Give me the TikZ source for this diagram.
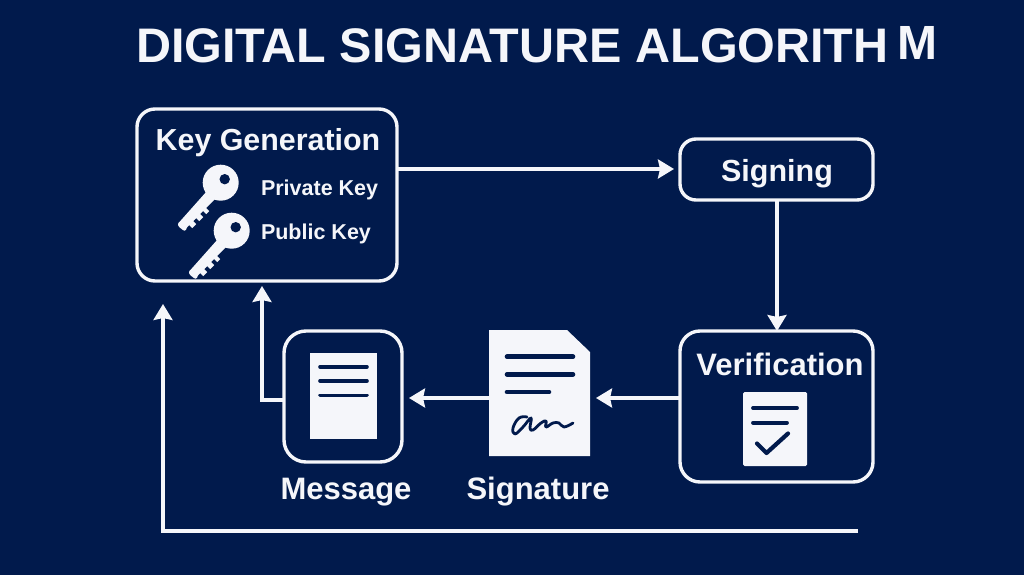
\documentclass[tikz,border=0pt]{standalone}
\usepackage{fontspec}
\setmainfont{Liberation Sans}
\usetikzlibrary{arrows.meta}
\definecolor{navy}{HTML}{011A4C}
\definecolor{paper}{HTML}{F5F6FA}
\newcommand{\fs}[1]{\fontsize{#1}{#1}\selectfont\bfseries}
\tikzset{
  box/.style={draw=paper,line width=3.4pt,fill=navy,anchor=north west,inner sep=0pt,outer sep=0pt},
  sheet/.style={fill=paper,anchor=north west,inner sep=0pt,outer sep=0pt},
  lbl/.style={text=paper,inner sep=0pt,outer sep=0pt},
  flow/.style={draw=paper,line width=3.2pt,-{Stealth[inset=2pt,length=16pt,width=19pt]}},
  rule/.style={draw=navy,line cap=round},
  keyicon/.pic={
    \fill[paper,rounded corners=1pt] (-5,-1.5) -- (3.5,7) -- (-34,45) -- (-35,48) -- (-37,48) -- (-42,44) -- (-43,41) -- (-41,39) -- cycle;
    \fill[paper] (-36,38) -- (-28.5,45.5) -- (-24.5,41.5) -- (-32,34) -- cycle;
    \fill[paper] (-29,31) -- (-21.5,38.5) -- (-17.5,34.5) -- (-25,27) -- cycle;
    \fill[paper] (-22,24) -- (-14.5,31.5) -- (-11.5,28.5) -- (-19,21) -- cycle;
    \fill[paper] (0,0) circle[radius=18];
    \fill[navy] (4,-3.5) circle[radius=5.2];
  }
}
\begin{document}
\begin{tikzpicture}[x=1pt,y=-1pt]
\path[use as bounding box,fill=navy] (0,0) rectangle (1024,575);
% title
\node[lbl,anchor=base west] (title) at (136,63) {\fs{48.5}DIGITAL SIGNATURE ALGORITH};
\node[lbl,anchor=base west] (titleend) at (897.5,59.5) {\fs{48}M};
% boxes
\node[box,rounded corners=18pt,minimum width=260pt,minimum height=172pt] (keygen) at (137,109) {};
\node[box,rounded corners=16pt,minimum width=193pt,minimum height=61pt] (signing) at (680,139) {};
\node[box,rounded corners=20pt,minimum width=193pt,minimum height=151pt] (verif) at (680,331) {};
\node[box,rounded corners=22pt,minimum width=118pt,minimum height=131pt] (msg) at (284,331) {};
% sheets
\node[sheet,minimum width=67pt,minimum height=86pt] (msgdoc) at (310,353) {};
\node[anchor=north west,inner sep=0pt,outer sep=0pt,minimum width=101pt,minimum height=126pt] (sigdoc) at (489,330) {};
\fill[paper] (sigdoc.north west) -- ++(78,0) -- ++(23,22) -- (sigdoc.south east) -- (sigdoc.south west) -- cycle;
\node[sheet,rounded corners=1.5pt,minimum width=64pt,minimum height=74pt] (verdoc) at (743,392) {};
% rules on the sheets
\foreach \y in {366.7,381,395.3} \draw[rule,line width=3.6pt] (320,\y) -- (367,\y);
\draw[rule,line width=4.6pt] (507,356.7) -- (573,356.7);
\draw[rule,line width=4.6pt] (507,374.3) -- (573,374.3);
\draw[rule,line width=4.6pt] (507,392) -- (549,392);
\draw[rule,line width=3.8pt] (753,408) -- (797,408);
\draw[rule,line width=3.8pt] (753,422.7) -- (787,422.7);
\draw[rule,line width=4.2pt,line join=round] (757,443.5) -- (766.5,453) -- (788,433.5);
% signature scribble
\draw[rule,line width=2.8pt,line join=round] plot[smooth,tension=0.7] coordinates {(527,417) (519,418) (513,428) (515,434) (523,427) (531,418) (530,428) (533,430) (541,423) (546,421) (546,427) (553,423) (559,423) (564,427) (573,423)};
% keys
\pic at (220.7,182.7) {keyicon};
\pic at (231.7,230.7) {keyicon};
% labels
\node[lbl,anchor=base] (tkey) at (268,150) {\fs{30.4}Key Generation};
\node[lbl,anchor=base west] (tpriv) at (261,195) {\fs{21.5}Private Key};
\node[lbl,anchor=base west] (tpub) at (261,239) {\fs{21.5}Public Key};
\node[lbl,anchor=base] (tsign) at (777,181) {\fs{30.5}Signing};
\node[lbl,anchor=base] (tver) at (780,375) {\fs{31}Verification};
\node[lbl,anchor=base] (tmsg) at (346,499) {\fs{31}Message};
\node[lbl,anchor=base] (tsig) at (538,499) {\fs{31}Signature};
% connectors
\coordinate (free) at (858,531);
\coordinate (keyin) at (163,304);
\draw[flow,shorten >=6pt] (keygen.east |- 0,169) -- (signing.west |- 0,169);
\draw[flow] (signing.south -| 777,0) -- (verif.north -| 777,0);
\draw[flow,shorten >=6pt] (verif.west |- 0,398) -- (sigdoc.east |- 0,398);
\draw[flow,shorten >=7pt] (sigdoc.west |- 0,398) -- (msg.east |- 0,398);
\draw[flow,shorten >=5pt] (msg.west |- 0,400) -| (keygen.south -| 262,0);
\draw[flow] (free) -| (keyin);
\end{tikzpicture}
\end{document}
